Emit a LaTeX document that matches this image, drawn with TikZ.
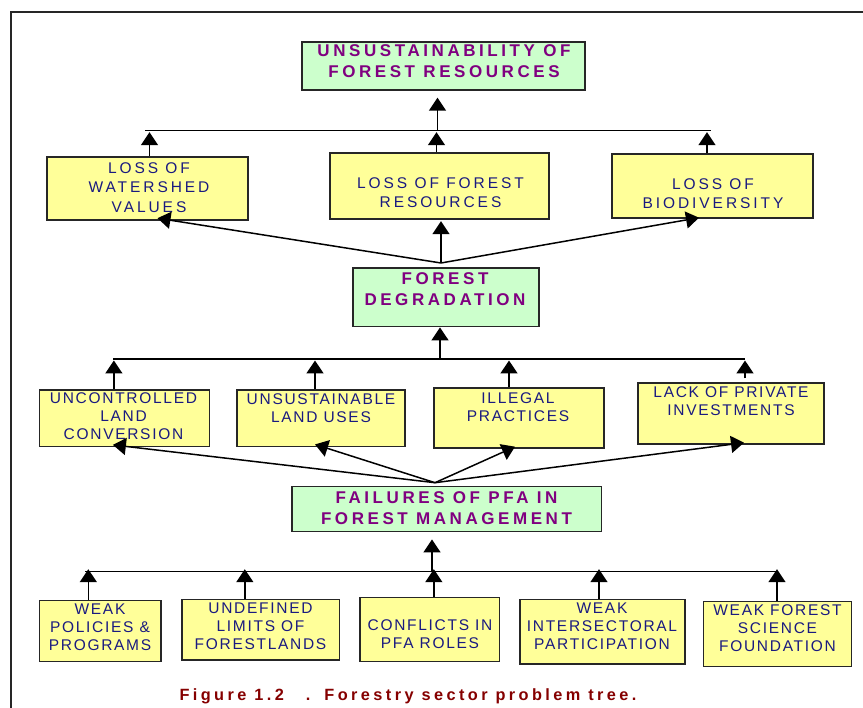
\documentclass[tikz,border=0pt]{standalone}
\usepackage{fontspec}
\setmainfont{Liberation Sans}
\newfontfamily\yfont[LetterSpace=11]{Liberation Sans}
\newfontfamily\yfontw[LetterSpace=19]{Liberation Sans}
\newfontfamily\gfont[LetterSpace=21]{Liberation Sans Bold}
\newfontfamily\cfont[LetterSpace=21]{Liberation Sans Bold}
\usetikzlibrary{arrows.meta,fit}
\definecolor{ynavy}{HTML}{1A1A80}
\definecolor{gpurple}{HTML}{800080}
\definecolor{cred}{HTML}{850000}
\definecolor{yfill}{HTML}{FFFF99}
\definecolor{gfill}{HTML}{CCFFCC}
\tikzset{
  ybox/.style={draw=black!85, line width=1.4pt, fill=yfill, inner sep=0pt},
  gbox/.style={draw=black!85, line width=1.4pt, fill=gfill, inner sep=0pt},
  ytext/.style={text=ynavy, font=\yfont\fontsize{15.5}{18}\selectfont, align=center, inner sep=0pt},
  ytextw/.style={text=ynavy, font=\yfontw\fontsize{15.5}{19.5}\selectfont, align=center, inner sep=0pt},
  gtext/.style={text=gpurple, font=\gfont\fontsize{17}{21}\selectfont, align=center, inner sep=0pt},
  arr/.style={line width=1.5pt, -{Triangle[length=13pt,width=17pt]}},
  barline/.style={line width=1.1pt},
}
\begin{document}
\begin{tikzpicture}[x=1pt,y=-1pt]
\useasboundingbox (0,0) rectangle (863,708);
% frame
\draw[line width=2pt, black!85] (863,12.5) -- (11,12.5) -- (11,708);

% ---- boxes ----
\node[gbox, fit={(302,42) (585,90)}] (top) {};
\node[ybox, fit={(47,157) (248,220)}] (lw) {};
\node[ybox, fit={(330,153) (549,219)}] (lfr) {};
\node[ybox, fit={(612,154) (813,218)}] (lbio) {};
\node[gbox, fit={(353,268) (539,326.7)}] (fd) {};
\node[ybox, fit={(39.5,390) (209.3,446.7)}] (ulc) {};
\node[ybox, fit={(237,390) (405,446.7)}] (ulu) {};
\node[ybox, fit={(434,388) (604,448)}] (ilp) {};
\node[ybox, fit={(638,383) (824,444)}] (lpi) {};
\node[gbox, fit={(292,486.7) (601.7,531.7)}] (fail) {};
\node[ybox, fit={(39.6,600.7) (161,661.7)}] (wpp) {};
\node[ybox, fit={(182,599.3) (339.6,660)}] (ulf) {};
\node[ybox, fit={(360,597.7) (499.7,661.7)}] (cpr) {};
\node[ybox, fit={(520,599.3) (685,664)}] (wip) {};
\node[ybox, fit={(703.3,601.7) (851.7,666.7)}] (wfs) {};

% ---- texts ----
\node[gtext] (ttop) at (444,61) {UNSUSTAINABILITY OF\\FOREST RESOURCES};
\node[ytextw] (tlw) at (149,187.5) {LOSS OF\\WATERSHED\\VALUES};
\node[ytextw] (tlfr) at (440.5,192.5) {LOSS OF FOREST\\RESOURCES};
\node[ytextw] (tlbio) at (713,193.5) {LOSS OF\\BIODIVERSITY};
\node[gtext] (tfd) at (445,289.5) {FOREST\\DEGRADATION};
\node[ytext] (tulc) at (123.5,416.3) {UNCONTROLLED\\LAND\\CONVERSION};
\node[ytext] (tulu) at (321,408) {UNSUSTAINABLE\\LAND USES};
\node[ytext] (tilp) at (518,407.5) {ILLEGAL\\PRACTICES};
\node[ytext] (tlpi) at (731,401) {LACK OF PRIVATE\\INVESTMENTS};
\node[gtext] (tfail) at (446.5,507.8) {FAILURES OF PFA IN\\FOREST MANAGEMENT};
\node[ytext] (twpp) at (100,627.5) {WEAK\\POLICIES \&\\PROGRAMS};
\node[ytext] (tulf) at (260.5,626) {UNDEFINED\\LIMITS OF\\FORESTLANDS};
\node[ytext] (tcpr) at (430,634) {CONFLICTS IN\\PFA ROLES};
\node[ytext] (twip) at (602,626) {WEAK\\INTERSECTORAL\\PARTICIPATION};
\node[ytext] (twfs) at (777.5,628.3) {WEAK FOREST\\SCIENCE\\FOUNDATION};

\node[text=cred, font=\cfont\fontsize{16.3}{18}\selectfont, inner sep=0pt] (cap) at (408,696)
  {Figure 1.2\hspace{22pt}.\hspace{14pt}Forestry sector problem tree.};

% ---- level 1: losses -> unsustainability ----
\coordinate (b1l) at (145,130.7);
\coordinate (b1r) at (711,130.7);
\coordinate (b1c) at (437.5,130.7);
\draw[barline] (b1l) -- (b1r);
\draw[arr, shorten >=7pt] (b1c) -- (b1c |- top.south);
\draw[arr, shorten >=1.5pt] ([xshift=2pt]lw.north) -- ([xshift=2pt]lw.north |- b1l);
\draw[arr, shorten >=1.5pt] ([xshift=-3pt]lfr.north) -- ([xshift=-3pt]lfr.north |- b1l);
\draw[arr, shorten >=1.5pt] ([xshift=-5.5pt]lbio.north) -- ([xshift=-5.5pt]lbio.north |- b1l);

% ---- level 2: degradation -> losses ----
\coordinate (fdt) at (441,263);
\draw[arr] (fdt) -- ([xshift=10pt,yshift=2.5pt]lw.south);
\draw[arr, shorten >=1.5pt] (fdt) -- (fdt |- lfr.south);
\draw[arr] (fdt) -- ([xshift=-13.5pt,yshift=1pt]lbio.south);

% ---- level 3: causes -> degradation ----
\coordinate (b2l) at (113,359);
\coordinate (b2r) at (745,359);
\coordinate (b2c) at (440,359);
\draw[barline] (b2l) -- (b2r);
\draw[arr] (b2c) -- (b2c |- fd.south);
\draw[arr, shorten >=1.5pt] ([xshift=-10.5pt]ulc.north) -- ([xshift=-10.5pt]ulc.north |- b2l);
\draw[arr, shorten >=1.5pt] ([xshift=-6pt]ulu.north) -- ([xshift=-6pt]ulu.north |- b2l);
\draw[arr, shorten >=1.5pt] ([xshift=-10pt]ilp.north) -- ([xshift=-10pt]ilp.north |- b2l);
\draw[arr, shorten >=1.5pt] ([xshift=14pt,yshift=4pt]lpi.north) -- ([xshift=14pt]lpi.north |- b2l);

% ---- level 4: failures -> causes ----
\coordinate (flt) at (435,482.7);
\draw[arr] (flt) -- ([xshift=-11.5pt,yshift=2.5pt]ulc.south);
\draw[arr] (flt) -- ([xshift=-6pt,yshift=3pt]ulu.south);
\draw[arr] (flt) -- ([xshift=-4pt,yshift=2pt]ilp.south);
\draw[arr] (flt) -- ([xshift=13pt,yshift=2pt]lpi.south);

% ---- level 5: root causes -> failures ----
\coordinate (b3l) at (85,571.7);
\coordinate (b3r) at (777,571.7);
\coordinate (b3c) at (432,571.7);
\draw[barline] (b3l) -- (b3r);
\draw[arr, shorten >=7pt] (b3c) -- (b3c |- fail.south);
\draw[arr, shorten >=-2.5pt] ([xshift=-12pt]wpp.north) -- ([xshift=-12pt]wpp.north |- b3l);
\draw[arr, shorten >=-2.5pt] ([xshift=-16pt]ulf.north) -- ([xshift=-16pt]ulf.north |- b3l);
\draw[arr, shorten >=-2.5pt] ([xshift=4pt]cpr.north) -- ([xshift=4pt]cpr.north |- b3l);
\draw[arr, shorten >=-2.5pt] ([xshift=-3.5pt]wip.north) -- ([xshift=-3.5pt]wip.north |- b3l);
\draw[arr, shorten >=-2.5pt] ([xshift=-0.5pt]wfs.north) -- ([xshift=-0.5pt]wfs.north |- b3l);
\end{tikzpicture}
\end{document}
